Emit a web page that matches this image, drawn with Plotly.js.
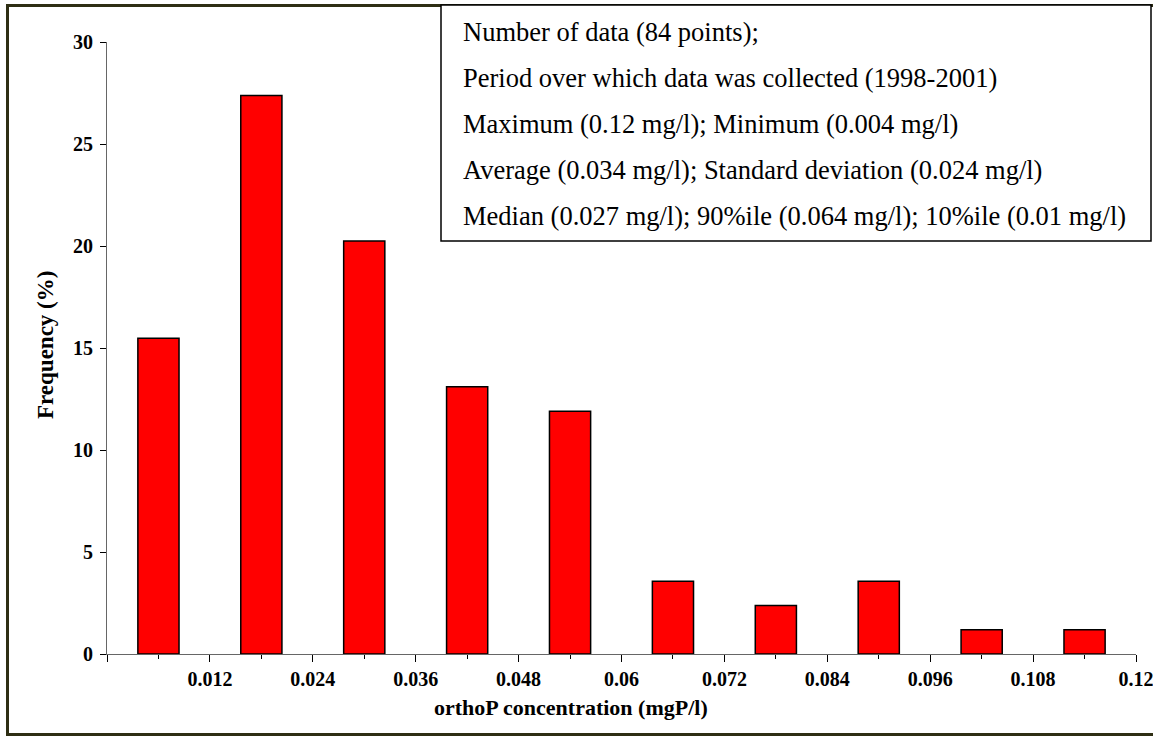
<!DOCTYPE html>
<html>
<head>
<meta charset="utf-8">
<script src="https://cdn.plot.ly/plotly-3.0.1.min.js"></script>
<style>
  html, body { margin: 0; padding: 0; background: #ffffff; }
  #chart { width: 1153px; height: 736px; }
</style>
</head>
<body>
<div id="chart"></div>
<script>
// Bin centres (mgP/l) and frequency (%)
const binCenters = [0.006, 0.018, 0.030, 0.042, 0.054, 0.066, 0.078, 0.090, 0.102, 0.114];
const frequency = [15.48, 27.38, 20.24, 13.10, 11.90, 3.57, 2.38, 3.57, 1.19, 1.19];
const xTickVals = [0, 0.012, 0.024, 0.036, 0.048, 0.06, 0.072, 0.084, 0.096, 0.108, 0.12];
const xTickText = ['', '0.012', '0.024', '0.036', '0.048', '0.06', '0.072', '0.084', '0.096', '0.108', '0.12'];
const yTickVals = [0, 5, 10, 15, 20, 25, 30];
const statLines = [
  'Number of data (84 points);',
  'Period over which data was collected (1998-2001)',
  'Maximum (0.12 mg/l); Minimum (0.004 mg/l)',
  'Average (0.034 mg/l); Standard deviation (0.024 mg/l)',
  'Median (0.027 mg/l); 90%ile (0.064 mg/l); 10%ile (0.01 mg/l)'
];
const xTitle = 'orthoP concentration (mgP/l)';
const yTitle = 'Frequency (%)';

const FONT = '"Liberation Serif", "Times New Roman", serif';

// pixel helpers for paper coordinates
const W = 1153, H = 736, L = 107, R = 1136, T = 42, B = 654;
const px = x => (x - L) / (R - L);
const py = y => (B - y) / (B - T);

const trace = {
  type: 'bar',
  x: binCenters,
  y: frequency,
  width: 0.0048,
  marker: { color: '#ff0000', line: { color: '#000000', width: 1.5 } },
  hoverinfo: 'x+y'
};

const lineY = [32, 78, 124, 170, 216];
const annotations = statLines.map((t, i) => ({
  text: t, xref: 'paper', yref: 'paper', x: px(461), y: py(lineY[i]),
  xanchor: 'left', yanchor: 'middle', showarrow: false,
  font: { family: FONT, size: 26.5, color: '#000' }
}));
annotations.push({
  text: '<b>' + xTitle + '</b>', xref: 'paper', yref: 'paper', x: px(571), y: py(707),
  xanchor: 'center', yanchor: 'middle', showarrow: false,
  font: { family: FONT, size: 22, color: '#000' }
});
annotations.push({
  text: '<b>' + yTitle + '</b>', xref: 'paper', yref: 'paper', x: px(45), y: py(345),
  xanchor: 'center', yanchor: 'middle', showarrow: false, textangle: -90,
  font: { family: FONT, size: 23, color: '#000' }
});

const layout = {
  width: W, height: H,
  margin: { l: L, r: W - R, t: T, b: H - B, pad: 0 },
  paper_bgcolor: '#ffffff', plot_bgcolor: '#ffffff',
  showlegend: false,
  font: { family: FONT, color: '#000' },
  xaxis: {
    range: [0, 0.12], fixedrange: true,
    tickmode: 'array', tickvals: xTickVals, ticktext: xTickText,
    ticks: 'outside', ticklen: 7, tickwidth: 1, tickcolor: '#000',
    ticklabeloverflow: 'allow',
    minor: { tickmode: 'array', tickvals: binCenters, ticks: 'outside', ticklen: 4, tickwidth: 1, tickcolor: '#000' },
    showline: true, linecolor: '#666', linewidth: 1,
    showgrid: false, zeroline: false,
    tickfont: { family: FONT, size: 20, color: '#000', weight: 'bold' }
  },
  xaxis2: {
    overlaying: 'x', matches: 'x', range: [0, 0.12], side: 'bottom',
    tickmode: 'array', tickvals: xTickVals, showticklabels: false,
    ticks: 'inside', ticklen: 7, tickwidth: 1, tickcolor: '#000',
    minor: { tickmode: 'array', tickvals: binCenters, ticks: 'inside', ticklen: 5, tickwidth: 1, tickcolor: '#000' },
    showline: false, showgrid: false, zeroline: false
  },
  yaxis: {
    range: [0, 30], fixedrange: true,
    tickmode: 'array', tickvals: yTickVals,
    ticks: 'outside', ticklen: 6, tickwidth: 1, tickcolor: '#000',
    ticklabelstandoff: 3, ticklabeloverflow: 'allow',
    showline: true, linecolor: '#666', linewidth: 1,
    showgrid: false, zeroline: false,
    tickfont: { family: FONT, size: 20, color: '#000', weight: 'bold' }
  },
  shapes: [
    { type: 'rect', xref: 'paper', yref: 'paper', layer: 'above',
      x0: px(7.5), x1: px(1165), y0: py(734.5), y1: py(5.5),
      line: { color: '#2e2e14', width: 3 }, fillcolor: 'rgba(0,0,0,0)' },
    { type: 'rect', xref: 'paper', yref: 'paper', layer: 'above',
      x0: px(441), x1: px(1151), y0: py(241), y1: py(5),
      line: { color: '#000', width: 1.5 }, fillcolor: '#ffffff' }
  ],
  annotations: annotations
};

Plotly.newPlot('chart', [trace], layout, { displayModeBar: false, staticPlot: true });
</script>
</body>
</html>
